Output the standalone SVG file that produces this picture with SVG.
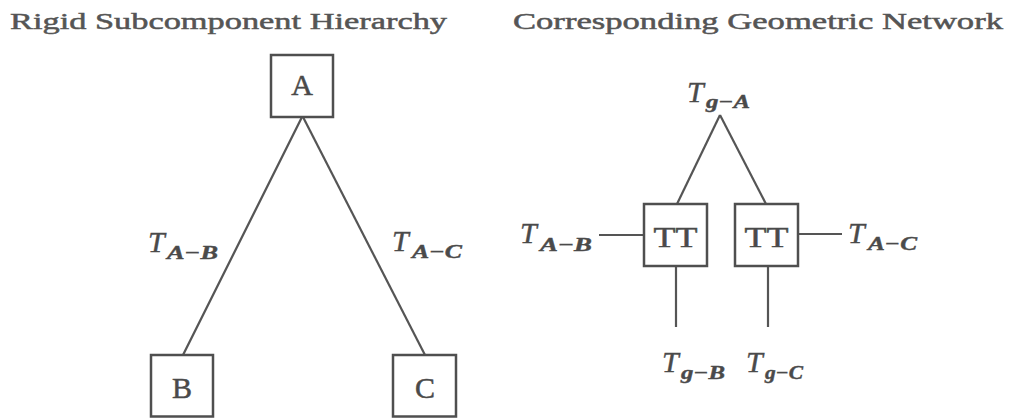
<svg xmlns="http://www.w3.org/2000/svg" width="1013" height="418" viewBox="0 0 1013 418">
<style>
.bg{fill:#ffffff}
.box{fill:none;stroke:#4f4f4f;stroke-width:2.5}
.ln{stroke:#555555;stroke-width:2.2;fill:none}
.title{font-family:"Liberation Serif","DejaVu Serif",serif;font-size:24px;fill:#555555;stroke:#555555;stroke-width:0.5}
.lbl{font-family:"Liberation Serif","DejaVu Serif",serif;font-size:30px;fill:#4a4a4a;stroke:#4a4a4a;stroke-width:0.5;text-anchor:middle}
.m{font-family:"Liberation Serif","DejaVu Serif",serif;font-style:italic;fill:#4a4a4a;stroke:#4a4a4a;stroke-width:0.4}
.T{font-size:30px}
.s{font-size:19px;font-weight:bold}
</style>
<rect class="bg" x="0" y="0" width="1013" height="418"/>
<text class="title" x="10" y="29" textLength="437" lengthAdjust="spacingAndGlyphs">Rigid Subcomponent Hierarchy</text>
<text class="title" x="513" y="29" textLength="490" lengthAdjust="spacingAndGlyphs">Corresponding Geometric Network</text>
<g id="connectors">
<line class="ln" x1="302" y1="117" x2="183" y2="355"/>
<line class="ln" x1="303" y1="117" x2="425" y2="355"/>
<line class="ln" x1="720" y1="115" x2="677" y2="204"/>
<line class="ln" x1="720" y1="115" x2="766" y2="204"/>
<line class="ln" x1="599" y1="235" x2="644" y2="235"/>
<line class="ln" x1="798" y1="234" x2="842" y2="234"/>
<line class="ln" x1="676" y1="266" x2="676" y2="327"/>
<line class="ln" x1="768" y1="266" x2="768" y2="327"/>
</g>
<g id="nodeA"><rect class="box" x="271" y="55" width="62" height="62"/><text class="lbl" x="302" y="95">A</text></g>
<g id="nodeB"><rect class="box" x="151" y="355" width="62" height="61.5"/><text class="lbl" x="182" y="398">B</text></g>
<g id="nodeC"><rect class="box" x="393" y="355" width="63" height="61.5"/><text class="lbl" x="425" y="398">C</text></g>
<g id="nodeTT1"><rect class="box" x="644" y="204" width="63" height="62"/><text class="lbl" x="675.5" y="247" textLength="44" lengthAdjust="spacingAndGlyphs">TT</text></g>
<g id="nodeTT2"><rect class="box" x="735" y="204" width="63" height="62"/><text class="lbl" x="766.5" y="247" textLength="44" lengthAdjust="spacingAndGlyphs">TT</text></g>
<g id="labels">
<text class="m"><tspan class="T" x="148" y="252">T</tspan><tspan class="s" x="167" y="259" textLength="51" lengthAdjust="spacingAndGlyphs">A−B</tspan></text>
<text class="m"><tspan class="T" x="392" y="251">T</tspan><tspan class="s" x="412" y="258" textLength="50" lengthAdjust="spacingAndGlyphs">A−C</tspan></text>
<text class="m"><tspan class="T" x="520" y="243">T</tspan><tspan class="s" x="540" y="251" textLength="52" lengthAdjust="spacingAndGlyphs">A−B</tspan></text>
<text class="m"><tspan class="T" x="848" y="243">T</tspan><tspan class="s" x="868" y="250" textLength="49" lengthAdjust="spacingAndGlyphs">A−C</tspan></text>
<text class="m"><tspan class="T" x="687" y="102">T</tspan><tspan class="s" x="706" y="108" textLength="44" lengthAdjust="spacingAndGlyphs">g−A</tspan></text>
<text class="m"><tspan class="T" x="662" y="372">T</tspan><tspan class="s" x="681" y="379" textLength="44" lengthAdjust="spacingAndGlyphs">g−B</tspan></text>
<text class="m"><tspan class="T" x="746" y="372">T</tspan><tspan class="s" x="765" y="379" textLength="38" lengthAdjust="spacingAndGlyphs">g−C</tspan></text>
</g>
</svg>
